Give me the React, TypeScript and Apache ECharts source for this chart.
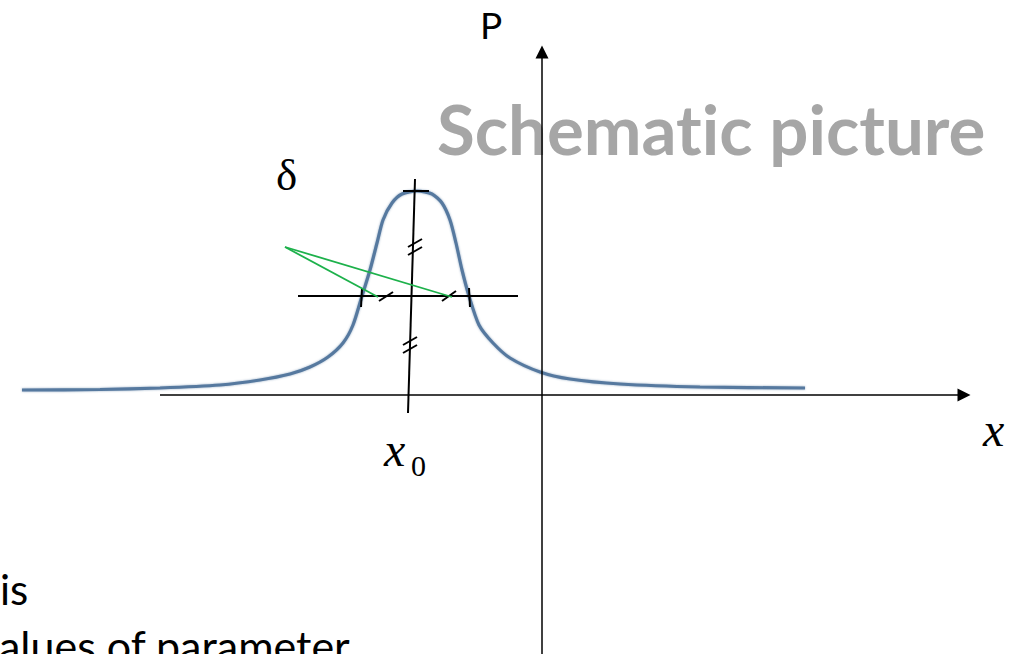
import React, { useEffect, useRef } from "react";
import * as echarts from "echarts";

// Schematic coordinates: origin at the crossing of the x axis and the P axis,
// x to the right, P upward (units).
const curveX = [-521, -443, -383, -323, -283, -253, -233, -215, -200, -190, -181, -173, -166, -160, -151, -141, -126, -111, -101, -93, -87, -81, -74, -64, -50, -33, -3, 27, 77, 157, 262];
const curveP = [5, 5.5, 7, 10, 15, 21, 28, 38, 52, 70, 99, 125, 152, 175, 192, 201, 204, 201, 192, 175, 152, 125, 99, 70, 52, 37, 23, 16, 11, 8, 7];

// axes with arrow heads: [start, end]
const xAxisLine = [[-383, 0], [421, 0]];
const pAxisLine = [[-1, -259], [-1, 343]];

// construction marks around the peak (x0, half height, width delta)
const centerLine = [[-128, 216], [-135, -18]];
const peakTick = [[-140, 204], [-114, 204]];
const halfLine = [[-245, 99], [-25, 99]];
const leftTick = [[-181, 106], [-182, 88]];
const rightTick = [[-74, 107], [-73, 88]];
const hashMarks = [
  [[-135, 148], [-121, 156]],
  [[-135, 140], [-121, 148]],
  [[-140, 50], [-126, 58]],
  [[-140, 42], [-126, 50]],
  [[-164, 94], [-150, 103]],
  [[-101, 94], [-87, 104]],
];
const greenLines = [
  [[-258, 148], [-165, 98]],
  [[-258, 148], [-91, 98]],
];

const titleText = "Schematic picture";
const pLabel = "P";
const xLabel = "x";
const x0Main = "x";
const x0Sub = "0";
const deltaLabel = "δ";
const bodyLine1 = "is";
const bodyLine2 = "alues of parameter";

export default function App() {
  const ref = useRef<HTMLDivElement>(null);
  useEffect(() => {
    const chart = echarts.init(ref.current!, null, { renderer: "svg" });
    const seg = (c: number[][]) => ({ coords: c });
    chart.setOption({
      animation: false,
      backgroundColor: "#ffffff",
      grid: { left: 0, right: 0, top: 0, bottom: 0 },
      xAxis: { type: "value", min: -543, max: 482, show: false },
      yAxis: { type: "value", min: -259, max: 395, show: false },
      series: [
        {
          type: "line",
          data: curveX.map((x, i) => [x, curveP[i]]),
          showSymbol: false,
          smooth: 0.25,
          lineStyle: {
            color: "#56799f",
            width: 3.2,
            shadowColor: "rgba(86,121,159,0.6)",
            shadowBlur: 2,
          },
          z: 2,
        },
        {
          type: "lines",
          coordinateSystem: "cartesian2d",
          symbol: ["none", "triangle"],
          symbolSize: [9, 13],
          lineStyle: { color: "#000000", width: 1.5, opacity: 1 },
          data: [seg(xAxisLine), seg(pAxisLine)],
          z: 3,
        },
        {
          type: "lines",
          coordinateSystem: "cartesian2d",
          symbol: "none",
          lineStyle: { color: "#000000", width: 2, opacity: 1 },
          data: [
            seg(centerLine),
            seg(peakTick),
            seg(halfLine),
            seg(leftTick),
            seg(rightTick),
            ...hashMarks.map(seg),
          ],
          z: 4,
        },
        {
          type: "lines",
          coordinateSystem: "cartesian2d",
          symbol: "none",
          lineStyle: { color: "#1db14b", width: 1.8, opacity: 1 },
          data: greenLines.map(seg),
          z: 5,
        },
      ],
      graphic: [
        {
          type: "text",
          x: 437,
          y: 128,
          z: 1,
          style: {
            text: titleText,
            fill: "#a6a6a6",
            fontFamily: "Lato",
            fontWeight: "bold",
            fontSize: 69,
            align: "left",
            verticalAlign: "middle",
          },
        },
        {
          type: "text",
          x: 480,
          y: 24,
          style: { text: pLabel, fill: "#000", fontFamily: "Lato", fontSize: 37, align: "left", verticalAlign: "middle" },
        },
        {
          type: "text",
          x: 983,
          y: 429,
          style: { text: xLabel, fill: "#000", fontFamily: "Liberation Serif", fontStyle: "italic", fontSize: 48, align: "left", verticalAlign: "middle" },
        },
        {
          type: "text",
          x: 384,
          y: 449,
          style: { text: x0Main, fill: "#000", fontFamily: "Liberation Serif", fontStyle: "italic", fontSize: 48, align: "left", verticalAlign: "middle" },
        },
        {
          type: "text",
          x: 411,
          y: 465,
          style: { text: x0Sub, fill: "#000", fontFamily: "Liberation Serif", fontSize: 30, align: "left", verticalAlign: "middle" },
        },
        {
          type: "text",
          x: 276,
          y: 175,
          style: { text: deltaLabel, fill: "#000", fontFamily: "Liberation Serif", fontSize: 45, align: "left", verticalAlign: "middle" },
        },
        {
          type: "text",
          x: 0,
          y: 589,
          style: { text: bodyLine1, fill: "#000", fontFamily: "Lato", fontSize: 42, align: "left", verticalAlign: "middle" },
        },
        {
          type: "text",
          x: -1,
          y: 645,
          style: { text: bodyLine2, fill: "#000", fontFamily: "Lato", fontSize: 43, align: "left", verticalAlign: "middle" },
        },
      ],
    });
    return () => chart.dispose();
  }, []);
  return (
    <>
      <style>{"svg text{font-variant-ligatures:none;font-feature-settings:'liga' 0,'clig' 0;}"}</style>
      <div
        ref={ref}
        style={{ position: "fixed", left: 0, top: 0, width: 1025, height: 654, background: "#ffffff" }}
      />
    </>
  );
}
